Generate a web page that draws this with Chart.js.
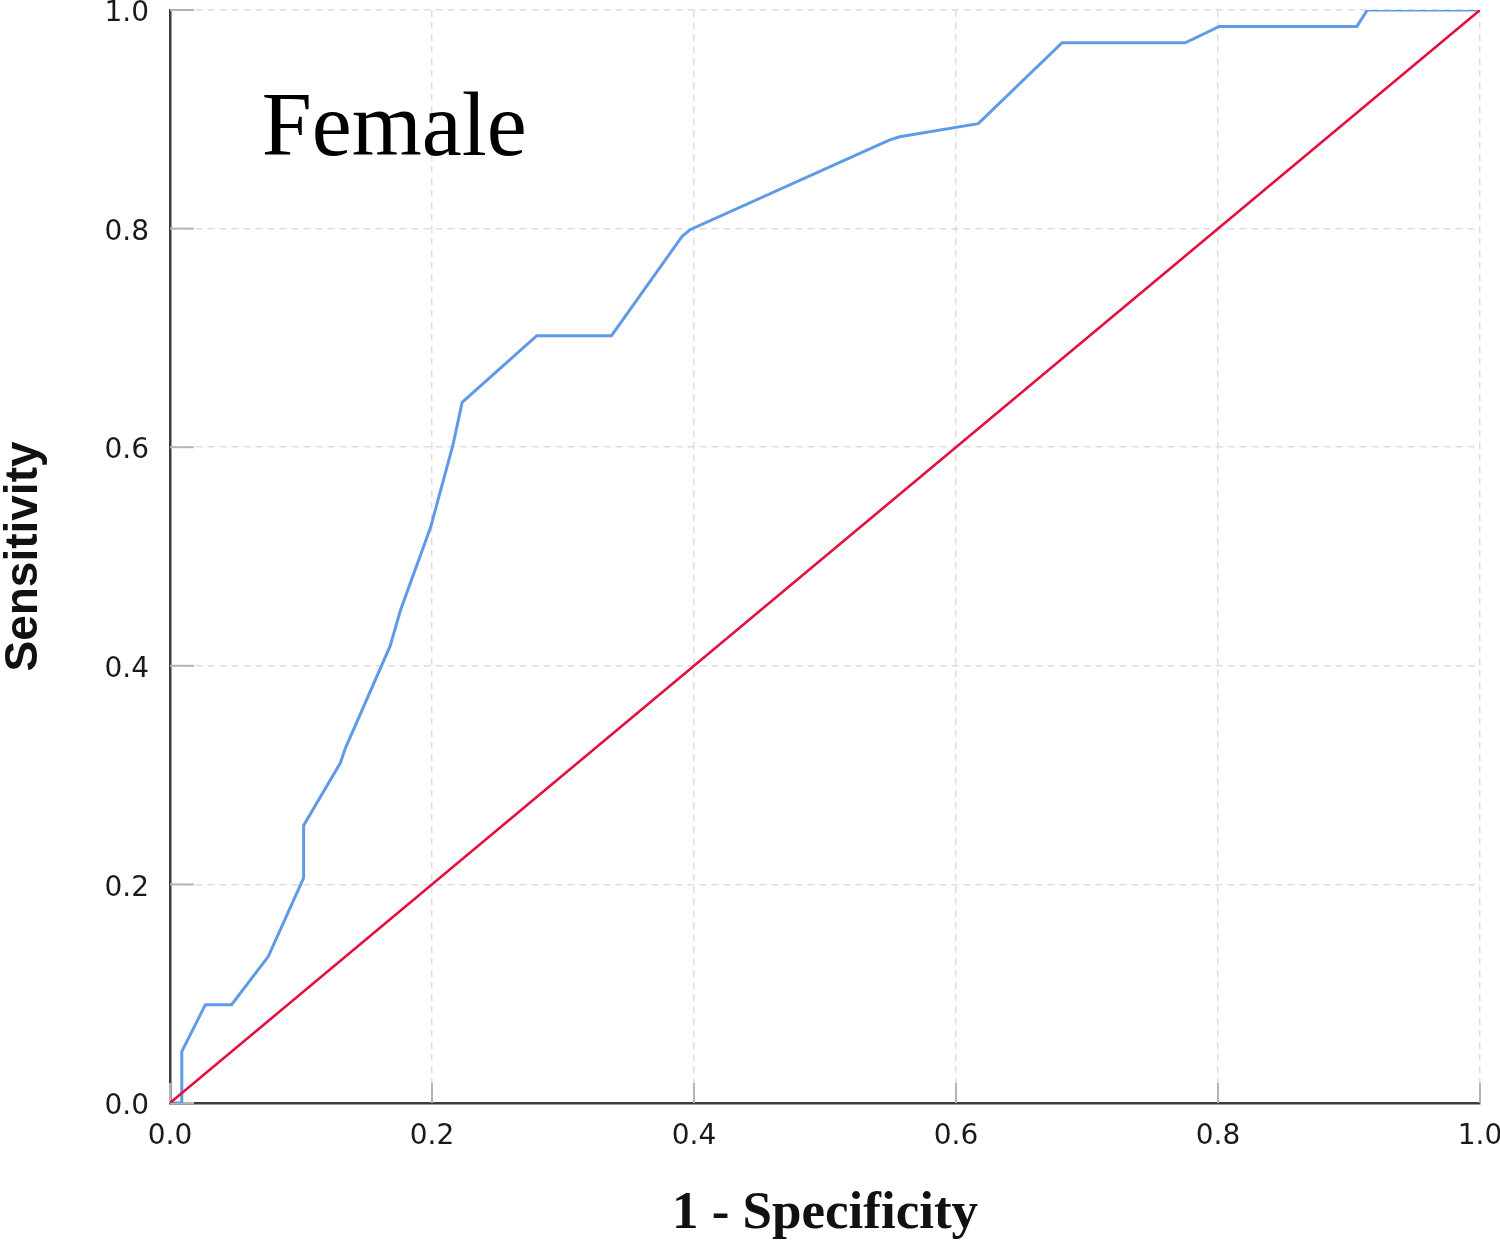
<!DOCTYPE html>
<html>
<head>
<meta charset="utf-8">
<title>ROC curve - Female</title>
<script src="https://cdn.jsdelivr.net/npm/chart.js@4.4.1/dist/chart.umd.min.js"></script>
<style>
  html, body { margin: 0; padding: 0; background: #fff; overflow: hidden; }
  #wrap { width: 1504px; height: 1242px; }
</style>
</head>
<body>
<div id="wrap"><canvas id="rocChart" width="1504" height="1242"></canvas></div>
<script>
// ROC curve points (1 - specificity, sensitivity)
const fpr = [0, 0.009, 0.009, 0.027, 0.047, 0.075, 0.102, 0.102, 0.130, 0.134,
  0.168, 0.176, 0.199, 0.204, 0.216, 0.223, 0.280, 0.337, 0.391, 0.397,
  0.549, 0.557, 0.617, 0.681, 0.775, 0.801, 0.906, 0.914, 1.0];
const tpr = [0, 0, 0.047, 0.090, 0.090, 0.134, 0.206, 0.254, 0.311, 0.325,
  0.418, 0.451, 0.527, 0.549, 0.602, 0.641, 0.702, 0.702, 0.793, 0.799,
  0.881, 0.884, 0.896, 0.970, 0.970, 0.985, 0.985, 1.0, 1.0];

// reference line
const refX = [0, 1];
const refY = [0, 1];

const tickValues = [0, 0.2, 0.4, 0.6, 0.8, 1.0];
const panelLabel = 'Female';

const toPoints = (xs, ys) => xs.map((x, i) => ({ x: x, y: ys[i] }));

// let the layout padding alone decide where the plot sits
const noScalePadding = (scale) => {
  scale.paddingTop = 0;
  scale.paddingBottom = 0;
  scale.paddingLeft = 0;
  scale.paddingRight = 0;
};

// short solid tick marks drawn inside the plot, plus the panel label
const innerTicks = {
  id: 'innerTicks',
  beforeDatasetsDraw(chart) {
    const { ctx, chartArea } = chart;
    const xs = chart.scales.x;
    const ys = chart.scales.y;
    ctx.save();
    ctx.strokeStyle = '#b4b4b4';
    ctx.lineWidth = 2;
    tickValues.forEach((v) => {
      const py = ys.getPixelForValue(v);
      ctx.beginPath();
      ctx.moveTo(chartArea.left, py);
      ctx.lineTo(chartArea.left + 24, py);
      ctx.stroke();
      const px = xs.getPixelForValue(v);
      ctx.beginPath();
      ctx.moveTo(px, chartArea.bottom);
      ctx.lineTo(px, chartArea.bottom - 20);
      ctx.stroke();
    });
    ctx.restore();
  },
  afterDraw(chart) {
    const { ctx } = chart;
    ctx.save();
    ctx.fillStyle = '#000';
    ctx.font = '90px "Liberation Serif", "Times New Roman", serif';
    ctx.textBaseline = 'alphabetic';
    ctx.fillText(panelLabel, chart.scales.x.getPixelForValue(0.07), chart.scales.y.getPixelForValue(0.867));
    ctx.restore();
  }
};

const ctx = document.getElementById('rocChart');
new Chart(ctx, {
  type: 'scatter',
  data: {
    datasets: [
      {
        label: 'Reference Line',
        data: toPoints(refX, refY),
        showLine: true,
        borderColor: '#e3103e',
        borderWidth: 2.5,
        pointRadius: 0,
        order: 0,
      },
      {
        label: 'Female',
        data: toPoints(fpr, tpr),
        showLine: true,
        borderColor: '#5e9ae6',
        borderWidth: 3,
        pointRadius: 0,
        tension: 0,
        order: 1,
      },
    ],
  },
  plugins: [innerTicks],
  options: {
    responsive: false,
    animation: false,
    devicePixelRatio: 1,
    layout: { padding: { top: 10, right: 24, left: 0, bottom: 0 } },
    plugins: {
      legend: { display: false },
      tooltip: { enabled: false },
    },
    scales: {
      x: {
        type: 'linear',
        min: 0,
        max: 1,
        afterFit: (scale) => { scale.height = 139; noScalePadding(scale); },
        afterBuildTicks: (scale) => { scale.ticks = tickValues.map((v) => ({ value: v })); },
        grid: { color: '#dedede', lineWidth: 1.5, drawTicks: false },
        border: { color: '#3c3c3c', width: 2.5, dash: [7, 5] },
        ticks: {
          padding: 17,
          color: '#1a1a1a',
          font: { family: '"DejaVu Sans", sans-serif', size: 28 },
          callback: (v) => v.toFixed(1),
        },
        title: {
          display: true,
          text: '1 - Specificity',
          color: '#111',
          font: { family: '"Liberation Serif", serif', size: 53, weight: 'bold', lineHeight: 1 },
          padding: { top: 0, bottom: 1 },
        },
      },
      y: {
        type: 'linear',
        min: 0,
        max: 1,
        afterFit: (scale) => { scale.width = 170; noScalePadding(scale); },
        afterBuildTicks: (scale) => { scale.ticks = tickValues.map((v) => ({ value: v })); },
        grid: { color: '#dedede', lineWidth: 1.5, drawTicks: false },
        border: { color: '#3c3c3c', width: 2.5, dash: [7, 5] },
        ticks: {
          padding: 21,
          labelOffset: 4,
          color: '#1a1a1a',
          font: { family: '"DejaVu Sans", sans-serif', size: 28 },
          callback: (v) => v.toFixed(1),
        },
        title: {
          display: true,
          text: 'Sensitivity',
          color: '#111',
          font: { family: '"Liberation Sans", Arial, sans-serif', size: 46, weight: 'bold', lineHeight: 1 },
          padding: { top: 1, bottom: 0 },
        },
      },
    },
  },
});
</script>
</body>
</html>
